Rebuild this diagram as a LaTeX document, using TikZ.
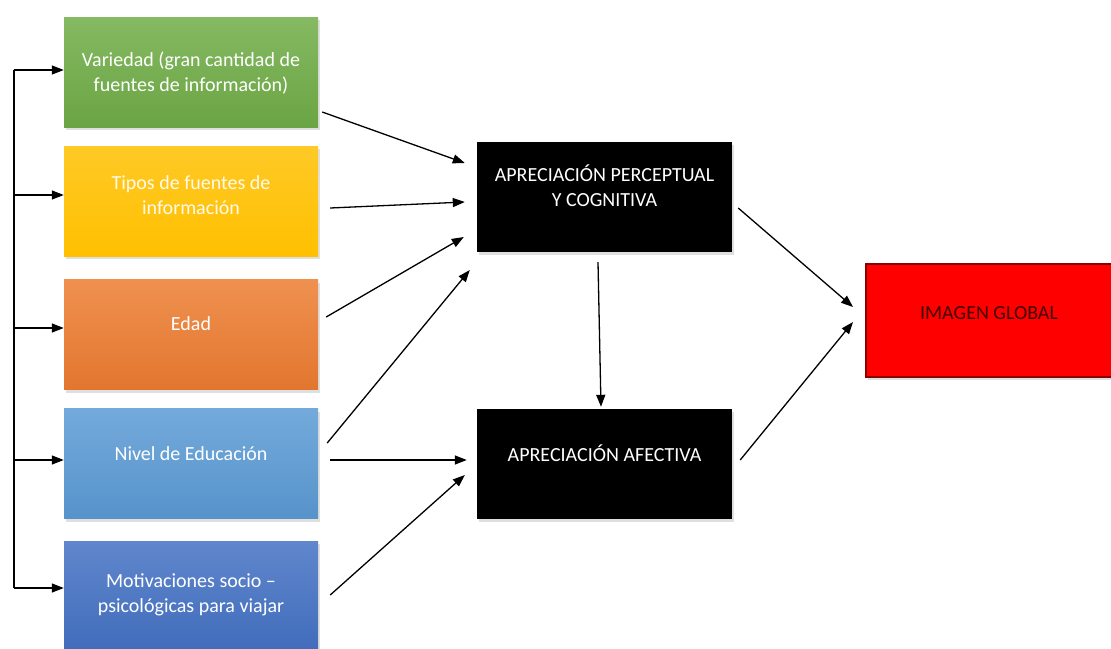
\documentclass[tikz,border=0pt]{standalone}
\usepackage{fontspec}
\setmainfont{Carlito}
\usetikzlibrary{arrows.meta, shadows}

\definecolor{grn}{HTML}{70AD47}
\definecolor{ylw}{HTML}{FFC000}
\definecolor{org}{HTML}{ED7D31}
\definecolor{lbl}{HTML}{5B9BD5}
\definecolor{dbl}{HTML}{4472C4}
\definecolor{drd}{HTML}{8B0000}

\tikzset{
  factor/.style={rectangle, minimum width=254pt, minimum height=110pt, align=center,
    text=white, font=\fontsize{20}{25}\selectfont,
    drop shadow={shadow xshift=2pt, shadow yshift=-3pt, opacity=.25}},
  stage/.style={factor, fill=black, minimum width=255pt},
  lift/.style={text depth=#1},
  arr/.style={black, line width=1.3pt, -{Triangle[length=12pt, width=9pt]}},
}

\begin{document}
\begin{tikzpicture}[x=1pt, y=-1pt]
\useasboundingbox (0,0) rectangle (1111,648);

\node[factor, top color=grn!85!white, bottom color=grn!95!black, lift=0pt] (var) at (191,72) {Variedad (gran cantidad de\\fuentes de información)};
\node[factor, top color=ylw!85!white, bottom color=ylw, lift=12pt, text=white!92!ylw] (tip) at (191,201) {Tipos de fuentes de\\información};
\node[factor, top color=org!85!white, bottom color=org!95!black, lift=22pt] (edad) at (191,334.5) {Edad};
\node[factor, top color=lbl!85!white, bottom color=lbl!95!black, lift=19pt] (niv) at (191,463.5) {Nivel de Educación};
\node[factor, top color=dbl!85!white, bottom color=dbl!95!black, lift=5pt] (mot) at (191,596) {Motivaciones socio --\\psicológicas para viajar};

\node[stage, lift=23pt] (apc) at (604.5,197) {APRECIACIÓN PERCEPTUAL\\Y COGNITIVA};
\node[stage, lift=22pt] (apa) at (604.5,464) {APRECIACIÓN AFECTIVA};

\node[factor, minimum width=246pt, minimum height=113pt, fill=red, draw=drd, line width=2pt,
  text=black!75!red, lift=15pt] (img) at (989,320.5) {IMAGEN GLOBAL};

% left bus
\coordinate (bus) at (14,70);
\coordinate (busend) at (14,588);
\draw[black, line width=1.5pt] (bus) -- (busend);
\coordinate (b1) at ([yshift=2pt]var.west);
\coordinate (b2) at ([yshift=6pt]tip.west);
\coordinate (b3) at ([yshift=6.5pt]edad.west);
\coordinate (b4) at ([yshift=3.5pt]niv.west);
\coordinate (b5) at ([yshift=8pt]mot.west);
\draw[arr] (bus |- b1) -- (b1);
\draw[arr] (bus |- b2) -- (b2);
\draw[arr] (bus |- b3) -- (b3);
\draw[arr] (bus |- b4) -- (b4);
\draw[arr] (bus |- b5) -- (b5);

% factors to stages
\draw[arr] ([xshift=4pt, yshift=-40pt]var.east) -- ([xshift=-12pt, yshift=34pt]apc.west);
\draw[arr] ([xshift=12pt, yshift=-7pt]tip.east) -- ([xshift=-12pt, yshift=-5pt]apc.west);
\draw[arr] ([xshift=8pt, yshift=17.5pt]edad.east) -- ([xshift=-13pt, yshift=-40pt]apc.west);
\draw[arr] ([xshift=9pt, yshift=20.5pt]niv.east) -- ([xshift=-7pt, yshift=-73pt]apc.west);
\draw[arr] ([xshift=12pt, yshift=3.5pt]niv.east) -- ([xshift=-10pt, yshift=4pt]apa.west);
\draw[arr] ([xshift=12pt, yshift=1pt]mot.east) -- ([xshift=-12pt, yshift=-11pt]apa.west);

% stages
\draw[arr] ([xshift=-6.5pt, yshift=-10pt]apc.south) -- ([xshift=-3.5pt, yshift=2pt]apa.north);
\draw[arr] ([xshift=6pt, yshift=-11pt]apc.east) -- ([xshift=-12pt, yshift=13.5pt]img.west);
\draw[arr] ([xshift=8pt, yshift=4pt]apa.east) -- ([xshift=-12pt, yshift=-1.5pt]img.west);

\end{tikzpicture}
\end{document}
